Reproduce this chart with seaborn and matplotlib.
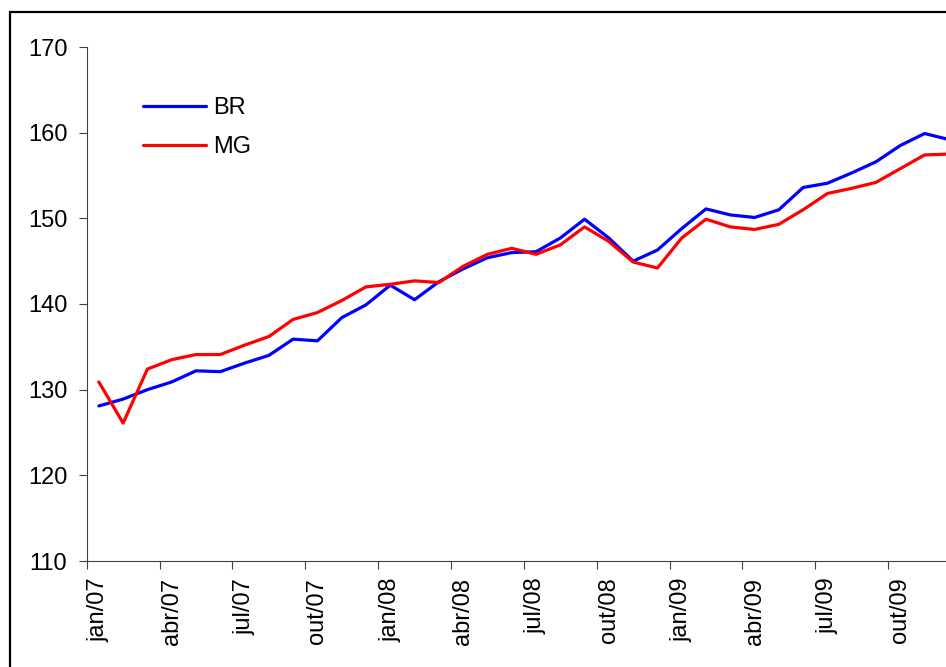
import matplotlib
matplotlib.use("Agg")
import matplotlib.pyplot as plt
import seaborn as sns
import pandas as pd
from matplotlib.patches import Rectangle

# ==================== DADOS ====================
MESES = ['jan/07', 'fev/07', 'mar/07', 'abr/07', 'mai/07', 'jun/07',
         'jul/07', 'ago/07', 'set/07', 'out/07', 'nov/07', 'dez/07',
         'jan/08', 'fev/08', 'mar/08', 'abr/08', 'mai/08', 'jun/08',
         'jul/08', 'ago/08', 'set/08', 'out/08', 'nov/08', 'dez/08',
         'jan/09', 'fev/09', 'mar/09', 'abr/09', 'mai/09', 'jun/09',
         'jul/09', 'ago/09', 'set/09', 'out/09', 'nov/09', 'dez/09']

BR = [128.1, 128.9, 130.0, 130.9, 132.2, 132.1, 133.1, 134.0, 135.9, 135.7,
      138.4, 139.9, 142.2, 140.5, 142.6, 144.1, 145.4, 146.0, 146.1, 147.7,
      149.9, 147.7, 145.0, 146.3, 148.8, 151.1, 150.4, 150.1, 151.0, 153.6,
      154.1, 155.3, 156.6, 158.5, 159.9, 159.2]

MG = [130.9, 126.1, 132.4, 133.5, 134.1, 134.1, 135.2, 136.2, 138.2, 139.0,
      140.4, 142.0, 142.3, 142.7, 142.5, 144.4, 145.8, 146.5, 145.8, 146.9,
      149.0, 147.3, 144.9, 144.2, 147.7, 149.9, 149.0, 148.7, 149.3, 151.0,
      152.9, 153.5, 154.2, 155.8, 157.4, 157.5]

TICK_LABELS = MESES[::3]

df = pd.DataFrame({
    'idx': list(range(len(MESES))) * 2,
    'valor': BR + MG,
    'serie': ['BR'] * len(BR) + ['MG'] * len(MG),
})

# ==================== ESTILO ====================
sns.set_style("white")
plt.rcParams['font.family'] = ['Liberation Sans', 'DejaVu Sans']
plt.rcParams['text.color'] = 'black'
plt.rcParams['xtick.color'] = 'black'
plt.rcParams['ytick.color'] = 'black'
FS = 17

W, H = 946, 667
fig = plt.figure(figsize=(W / 100, H / 100), dpi=100)

# moldura da figura (cortada a direita e embaixo)
fig.patches.append(Rectangle((10 / W, -0.1), 1.2, (H - 12) / H + 0.1,
                             transform=fig.transFigure, fill=False,
                             edgecolor='black', linewidth=1.6))

ax = fig.add_axes([86.7 / W, 106 / H, 874.3 / W, 514 / H])

sns.lineplot(data=df, x='idx', y='valor', hue='serie',
             palette={'BR': '#0000FF', 'MG': '#FF0000'},
             linewidth=2.3, ax=ax)

ax.set_xlim(-0.5, 35.5)
ax.set_ylim(110, 170)
ax.set_yticks(range(110, 171, 10))

# rotulos no centro do mes, tracos nas fronteiras
ax.set_xticks(range(0, len(MESES), 3))
ax.set_xticklabels(TICK_LABELS, rotation=90, fontsize=FS)
ax.set_xticks([i - 0.5 for i in range(0, len(MESES), 3)], minor=True)
ax.tick_params(axis='x', which='major', length=0, pad=12)
ax.tick_params(axis='x', which='minor', direction='out', length=6,
               width=0.8, color='#404040', bottom=True)
ax.tick_params(axis='y', labelsize=FS, direction='out', length=6,
               width=0.8, color='#404040', left=True, pad=8)
ax.set_xlabel('')
ax.set_ylabel('')

for s in ['top', 'right']:
    ax.spines[s].set_visible(False)
for s in ['left', 'bottom']:
    ax.spines[s].set_color('#404040')
    ax.spines[s].set_linewidth(0.8)

leg = ax.legend(loc='upper left', bbox_to_anchor=(0.064, 0.903),
                frameon=False, fontsize=FS, handlelength=2.7,
                handletextpad=0.3, labelspacing=0.72,
                borderpad=0, borderaxespad=0)
for line in leg.get_lines():
    line.set_linewidth(2.3)

fig.savefig('out.png', dpi=100)
